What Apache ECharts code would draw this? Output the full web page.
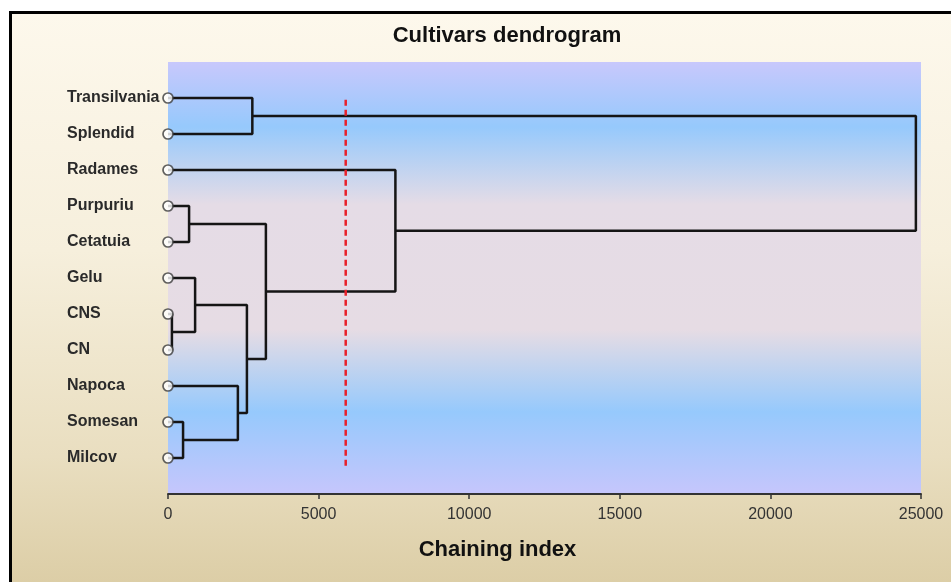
<!DOCTYPE html>
<html>
<head>
<meta charset="utf-8">
<script src="https://cdn.jsdelivr.net/npm/echarts@6/dist/echarts.min.js"></script>
<style>
html,body{margin:0;padding:0;background:#fff;}
#bg{position:absolute;left:9px;top:11px;width:960px;height:590px;border-left:3px solid #000;border-top:3px solid #000;
background:linear-gradient(to bottom,#fdf8ec 0%,#f6efdc 40%,#e9dec0 75%,#dacba2 100%);}
#chart{position:absolute;left:0;top:0;width:951px;height:582px;}
</style>
</head>
<body>
<div id="bg"></div>
<div id="chart"></div>
<script>
// Leaves (top to bottom)
const leaves = ['Transilvania','Splendid','Radames','Purpuriu','Cetatuia','Gelu','CNS','CN','Napoca','Somesan','Milcov'];
// Merges: node ids 0..10 are leaves, each merge creates node 11,12,...
const mergeA = [0, 3, 6, 5, 9, 8, 14, 12, 2, 11];
const mergeB = [1, 4, 7, 13, 10, 15, 16, 17, 18, 19];
const mergeHeight = [2800, 700, 130, 900, 500, 2320, 2620, 3250, 7550, 24830];
// Cut line
const cutValue = 5900;
const cutSpan = [0.05, 10.25];
const xTicks = [0, 25000, 5000];

const nodeY = leaves.map((_, i) => i);
const nodeH = leaves.map(() => 0);
const series = [];
mergeA.forEach((a, k) => {
  const b = mergeB[k], h = mergeHeight[k];
  series.push({
    type: 'line', clip: false, symbol: 'none', silent: true, z: 2,
    lineStyle: { color: '#151515', width: 2.5 },
    data: [[nodeH[a], nodeY[a]], [h, nodeY[a]], [h, nodeY[b]], [nodeH[b], nodeY[b]]]
  });
  nodeY.push((nodeY[a] + nodeY[b]) / 2);
  nodeH.push(h);
});
series.push({
  type: 'line', clip: false, symbol: 'none', z: 3,
  lineStyle: { color: '#e8202a', width: 2.5, type: [6, 4] },
  data: [[cutValue, cutSpan[0]], [cutValue, cutSpan[1]]]
});
series.push({
  type: 'scatter', clip: false, z: 5, symbol: 'circle', symbolSize: 10,
  itemStyle: { color: '#ffffff', borderColor: '#3a3a3a', borderWidth: 1.7 },
  data: leaves.map((_, i) => [0, i])
});

const chart = echarts.init(document.getElementById('chart'));
chart.setOption({
  backgroundColor: 'transparent',
  animation: false,
  textStyle: { fontFamily: 'Liberation Sans, Arial, sans-serif' },
  title: {
    text: 'Cultivars dendrogram', left: 502, top: 20, textAlign: 'center',
    textStyle: { fontSize: 22, fontWeight: 'bold', color: '#111', fontFamily: 'Liberation Sans, Arial, sans-serif' }
  },
  grid: {
    left: 168, right: 30, top: 62, bottom: 88, show: true, borderWidth: 0,
    backgroundColor: {
      type: 'linear', x: 0, y: 0, x2: 0, y2: 1,
      colorStops: [
        { offset: 0, color: '#c8c8fc' },
        { offset: 0.15, color: '#96c9fc' },
        { offset: 0.33, color: '#e5dce6' },
        { offset: 0.62, color: '#e6dce4' },
        { offset: 0.81, color: '#96c9fc' },
        { offset: 1, color: '#c6c6fc' }
      ]
    }
  },
  xAxis: {
    type: 'value', min: xTicks[0], max: xTicks[1], interval: xTicks[2],
    name: 'Chaining index', nameLocation: 'middle', nameGap: 45,
    nameTextStyle: { fontSize: 22, fontWeight: 'bold', color: '#111', padding: [0, 94, 0, 0] },
    axisLine: { onZero: false, lineStyle: { color: '#333', width: 2 } },
    axisTick: { show: true, length: 5, lineStyle: { color: '#333', width: 1.5 } },
    axisLabel: { color: '#333', fontSize: 16, margin: 13, formatter: v => String(v) },
    splitLine: { show: false }
  },
  yAxis: {
    type: 'value', inverse: true, min: -1, max: 11, interval: 1,
    axisLine: { show: false }, axisTick: { show: false }, splitLine: { show: false },
    axisLabel: {
      align: 'left', margin: 101, color: '#2a2a2a', fontSize: 16, fontWeight: 'bold',
      padding: [0, 0, 6, 0],
      formatter: v => (leaves[v] !== undefined ? leaves[v] : '')
    }
  },
  series: series
});
</script>
</body>
</html>
